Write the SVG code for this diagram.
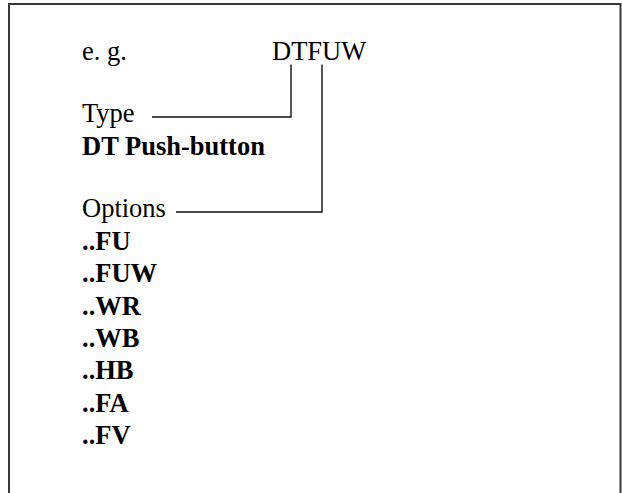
<svg xmlns="http://www.w3.org/2000/svg" width="622" height="493" viewBox="0 0 622 493">
<style>
.t{font-family:'Liberation Serif','Times New Roman',serif;font-size:26.5px;fill:#000}
.b{font-weight:bold}
.ln{fill:none;stroke:#111;stroke-width:1.4}
.frame{fill:none;stroke:#3a3a3a;stroke-width:2}
</style>
<rect width="622" height="493" fill="#fff"/>
<path class="frame" d="M9,494 V4 H620.5 V494"/>
<g id="example">
<text class="t" x="82" y="59.5">e. g.</text>
<text class="t" x="272" y="59.5">DTFUW</text>
</g>
<g id="type">
<text class="t" x="82" y="122">Type</text>
<text class="t b" x="82" y="154.5">DT Push-button</text>
</g>
<g id="options">
<text class="t" x="82" y="217">Options</text>
<text class="t b" x="82" y="250">..FU</text>
<text class="t b" x="82" y="282.3">..FUW</text>
<text class="t b" x="82" y="314.6">..WR</text>
<text class="t b" x="82" y="346.9">..WB</text>
<text class="t b" x="82" y="379.2">..HB</text>
<text class="t b" x="82" y="411.5">..FA</text>
<text class="t b" x="82" y="443.8">..FV</text>
</g>
<g id="connectors">
<path class="ln" d="M152,117 H291 V64.5"/>
<path class="ln" d="M176,212 H322 V64.5"/>
</g>
</svg>
